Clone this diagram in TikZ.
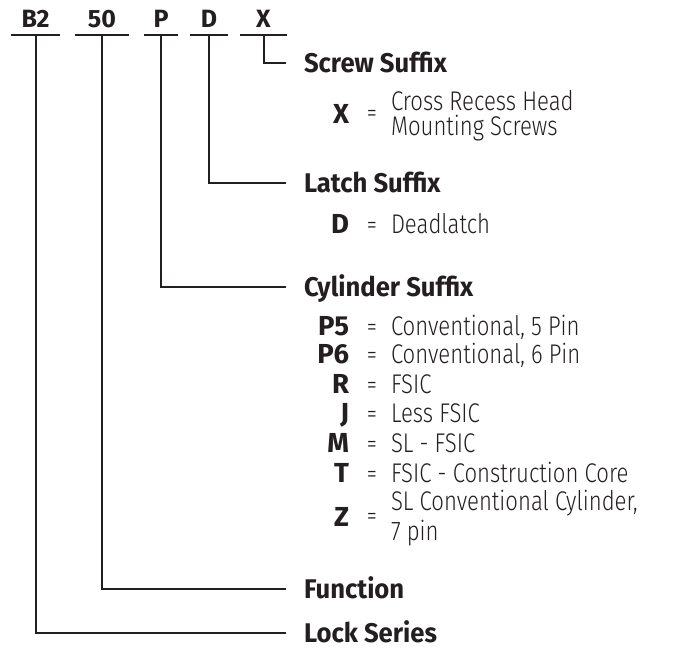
\documentclass[tikz,border=0pt]{standalone}
\usepackage{fontspec}
\setmainfont{Fira Sans}
\newfontfamily\headfont{Fira Sans}[FakeStretch=0.95]
\newfontfamily\keyfont{Fira Sans}
\newfontfamily\descfont{Fira Sans Light}[FakeStretch=0.82]
\definecolor{ink}{HTML}{231F20}

\begin{document}
\begin{tikzpicture}[x=1pt, y=-1pt, line width=2pt, color=ink,
    code/.style = {anchor=south, inner xsep=0pt, inner ysep=7pt, text height=17pt, text depth=0pt, font=\keyfont\bfseries\fontsize{25}{25}\selectfont},
    heading/.style = {anchor=west, inner sep=0pt, text height=19pt, text depth=0pt, font=\headfont\bfseries\fontsize{27}{27}\selectfont},
    key/.style = {anchor=base east, inner sep=0pt, font=\keyfont\bfseries\fontsize{27.5}{27.5}\selectfont},
    eq/.style = {anchor=base, inner sep=0pt, font=\descfont\fontsize{25}{25}\selectfont},
    desc/.style = {anchor=base west, inner sep=0pt, font=\descfont\fontsize{27}{27}\selectfont},
    link/.style = {draw, line width=2pt, shorten >=17pt}]

    \useasboundingbox (0,0) rectangle (673,649);

    % 1. Kod zamowienia z podkresleniami
    \node[code, minimum width=47pt] (b2) at (35.5,35) {B2};
    \node[code, minimum width=52pt] (fn) at (102,35) {50};
    \node[code, minimum width=32pt] (cyl) at (161,35) {P};
    \node[code, minimum width=36pt] (latch) at (209,35) {D};
    \node[code, minimum width=45pt] (screw) at (263.5,35) {X};
    \foreach \n in {b2, fn, cyl, latch, screw}
        \draw (\n.south west) -- (\n.south east);

    % 2. Naglowki grup
    \node[heading] (screwhead) at (303,63) {Screw Suffix};
    \node[heading] (latchhead) at (303,183) {Latch Suffix};
    \node[heading] (cylhead) at (303,287) {Cylinder Suffix};
    \node[heading] (fnhead) at (303,589) {Function};
    \node[heading] (serieshead) at (303,633) {Lock Series};

    % 3. Linie laczace kod z naglowkami
    \draw[link] (screw.south) |- (screwhead.west);
    \draw[link] (latch.south) |- (latchhead.west);
    \draw[link] (cyl.south) |- (cylhead.west);
    \draw[link] (fn.south) |- (fnhead.west);
    \draw[link] (b2.south) |- (serieshead.west);

    % 4. Opcje
    \node[key] (kx) at (350,123) {X};
    \node[eq] (ex) at (372,121) {=};
    \node[desc, anchor=west, align=left, font=\descfont\fontsize{27}{25}\selectfont] (dx) at (390,115.5) {Cross Recess Head\\Mounting Screws};

    \node[key] (kd) at (350,233) {D};
    \node[eq] (ed) at (372,233) {=};
    \node[desc] (dd) at (390,233) {Deadlatch};

    \node[key] (kp5) at (350,335) {P5};
    \node[eq] (ep5) at (372,335) {=};
    \node[desc] (dp5) at (390,335) {Conventional, 5 Pin};
    \node[key] (kp6) at (350,363) {P6};
    \node[eq] (ep6) at (372,363) {=};
    \node[desc] (dp6) at (390,363) {Conventional, 6 Pin};
    \node[key] (kr) at (350,393) {R};
    \node[eq] (er) at (372,393) {=};
    \node[desc] (dr) at (390,393) {FSIC};
    \node[key] (kj) at (350,422) {J};
    \node[eq] (ej) at (372,422) {=};
    \node[desc] (dj) at (390,422) {Less FSIC};
    \node[key] (km) at (350,452) {M};
    \node[eq] (em) at (372,452) {=};
    \node[desc] (dm) at (390,452) {SL - FSIC};
    \node[key] (kt) at (350,482) {T};
    \node[eq] (et) at (372,482) {=};
    \node[desc] (dt) at (390,482) {FSIC - Construction Core};
    \node[key] (kz) at (350,526) {Z};
    \node[eq] (ez) at (372,524) {=};
    \node[desc, anchor=west, align=left, font=\descfont\fontsize{27}{30}\selectfont] (dz) at (390,518) {SL Conventional Cylinder,\\7 pin};
\end{tikzpicture}
\end{document}
